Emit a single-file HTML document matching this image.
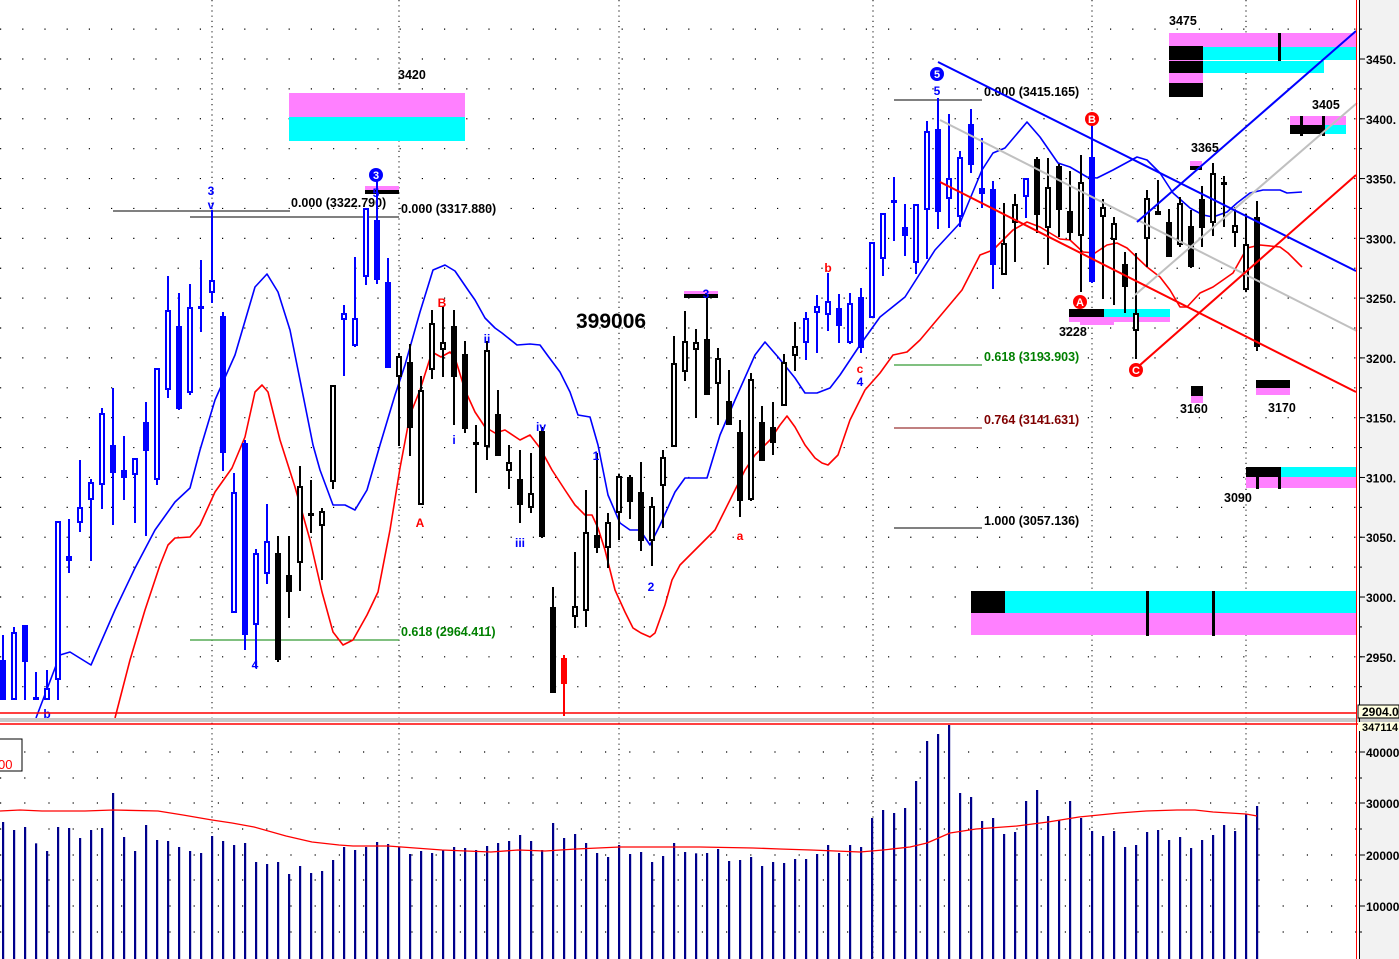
<!DOCTYPE html>
<html><head><meta charset="utf-8">
<style>
html,body{margin:0;padding:0;background:#fff;}
svg{display:block;}
text{font-family:"Liberation Sans",Arial,sans-serif;font-weight:bold;}
</style></head>
<body>
<svg id="c" width="1399" height="959" viewBox="0 0 1399 959" xmlns="http://www.w3.org/2000/svg">
<rect x="0" y="0" width="1399" height="959" fill="#fff"/>
<rect x="1360" y="0" width="39" height="959" fill="#f2f2f2"/>
<g id="grid"></g>
<rect x="289" y="93" width="176" height="24" fill="#ff80ff"/>
<rect x="289" y="117" width="176" height="24" fill="#00ffff"/>
<rect x="1169" y="33" width="187" height="14" fill="#ff80ff"/>
<rect x="1203" y="47" width="153" height="13" fill="#00ffff"/>
<rect x="1203" y="61" width="121" height="12" fill="#00ffff"/>
<rect x="1169" y="46" width="34" height="14" fill="#000"/>
<rect x="1169" y="60" width="34" height="1" fill="#ff80ff"/>
<rect x="1169" y="61" width="34" height="12" fill="#000"/>
<rect x="1169" y="73" width="34" height="10" fill="#ff80ff"/>
<rect x="1169" y="83" width="34" height="14" fill="#000"/>
<rect x="1278" y="33" width="3" height="28" fill="#000"/>
<rect x="1290" y="116" width="56" height="9" fill="#ff80ff"/>
<rect x="1325" y="125" width="21" height="9" fill="#00ffff"/>
<rect x="1290" y="125" width="35" height="9" fill="#000"/>
<rect x="1300" y="116" width="3" height="20" fill="#000"/>
<rect x="1322" y="116" width="3" height="20" fill="#000"/>
<rect x="1246" y="467" width="35" height="10" fill="#000"/>
<rect x="1281" y="467" width="75" height="10" fill="#00ffff"/>
<rect x="1246" y="477" width="110" height="11" fill="#ff80ff"/>
<rect x="1256" y="467" width="3" height="22" fill="#000"/>
<rect x="1278" y="467" width="3" height="22" fill="#000"/>
<rect x="971" y="591" width="34" height="22" fill="#000"/>
<rect x="1005" y="591" width="351" height="22" fill="#00ffff"/>
<rect x="971" y="613" width="385" height="22" fill="#ff80ff"/>
<rect x="1146" y="591" width="3" height="45" fill="#000"/>
<rect x="1212" y="591" width="3" height="45" fill="#000"/>
<rect x="1069" y="309" width="35" height="8" fill="#000"/>
<rect x="1104" y="309" width="66" height="8" fill="#00ffff"/>
<rect x="1069" y="317" width="101" height="5" fill="#ff80ff"/>
<rect x="1080" y="322" width="34" height="3" fill="#ff80ff"/>
<rect x="1191" y="386" width="12" height="10" fill="#000"/>
<rect x="1191" y="396" width="12" height="7" fill="#ff80ff"/>
<rect x="1256" y="380" width="34" height="8" fill="#000"/>
<rect x="1256" y="388" width="34" height="7" fill="#ff80ff"/>
<rect x="1190" y="161" width="12" height="5" fill="#ff80ff"/>
<rect x="1190" y="166" width="12" height="4" fill="#000"/>
<rect x="684" y="291" width="34" height="3" fill="#ff80ff"/>
<rect x="684" y="294" width="34" height="4" fill="#000"/>
<rect x="365" y="186" width="34" height="4" fill="#ff80ff"/>
<rect x="365" y="190" width="34" height="4" fill="#000"/>
<g stroke-width="1">
<line x1="113" y1="211" x2="290" y2="211" stroke="#000"/>
<line x1="190" y1="217" x2="399" y2="217" stroke="#000"/>
<line x1="190" y1="640" x2="399" y2="640" stroke="#008000"/>
<line x1="894" y1="100" x2="982" y2="100" stroke="#000"/>
<line x1="894" y1="365" x2="982" y2="365" stroke="#008000"/>
<line x1="894" y1="428" x2="982" y2="428" stroke="#800000"/>
<line x1="894" y1="528" x2="982" y2="528" stroke="#000"/>
</g>
<g font-size="12.5">
<text x="291" y="207" fill="#000">0.000 (3322.790)</text>
<text x="401" y="213" fill="#000">0.000 (3317.880)</text>
<text x="401" y="636" fill="#008000">0.618 (2964.411)</text>
<text x="984" y="96" fill="#000">0.000 (3415.165)</text>
<text x="984" y="361" fill="#008000">0.618 (3193.903)</text>
<text x="984" y="424" fill="#800000">0.764 (3141.631)</text>
<text x="984" y="525" fill="#000">1.000 (3057.136)</text>
<text x="398" y="79" fill="#000">3420</text>
<text x="1169" y="25" fill="#000">3475</text>
<text x="1312" y="109" fill="#000">3405</text>
<text x="1191" y="152" fill="#000">3365</text>
<text x="1059" y="336" fill="#000">3228</text>
<text x="1180" y="413" fill="#000">3160</text>
<text x="1268" y="412" fill="#000">3170</text>
<text x="1224" y="502" fill="#000">3090</text>
</g>
<text x="576" y="328" font-size="21" fill="#000">399006</text>
<g id="ma"></g>
<g id="cd"></g>
<g id="tl" stroke-width="2" fill="none">
<line x1="940" y1="120" x2="1357" y2="331" stroke="#c0c0c0"/>
<line x1="1135" y1="295" x2="1357" y2="103" stroke="#c0c0c0"/>
<line x1="938" y1="62" x2="1356" y2="271" stroke="#0000ff"/>
<line x1="1137" y1="222" x2="1356" y2="31" stroke="#0000ff"/>
<line x1="940" y1="182" x2="1356" y2="392" stroke="#ff0000"/>
<line x1="1140" y1="365" x2="1356" y2="175" stroke="#ff0000"/>
</g>
<g font-size="12" text-anchor="middle">
<text x="211" y="195" fill="#0000ff">3</text>
<text x="211" y="209" fill="#0000ff">v</text>
<text x="255" y="669" fill="#0000ff">4</text>
<text x="420" y="527" fill="#ff0000">A</text>
<text x="442" y="307" fill="#ff0000">B</text>
<text x="454" y="444" fill="#0000ff">i</text>
<text x="487" y="343" fill="#0000ff">ii</text>
<text x="520" y="547" fill="#0000ff">iii</text>
<text x="541" y="431" fill="#0000ff">iv</text>
<text x="596" y="460" fill="#0000ff">1</text>
<text x="651" y="591" fill="#0000ff">2</text>
<text x="706" y="298" fill="#0000ff">3</text>
<text x="740" y="540" fill="#ff0000">a</text>
<text x="828" y="272" fill="#ff0000">b</text>
<text x="860" y="373" fill="#ff0000">c</text>
<text x="860" y="386" fill="#0000ff">4</text>
<text x="937" y="95" fill="#0000ff">5</text>
<text x="376" y="197" fill="#0000ff">5</text>
<text x="47" y="718" fill="#0000ff">b</text>
</g>
<g font-size="11" text-anchor="middle">
<circle cx="376" cy="175" r="7" fill="#0000ff"/><text x="376" y="179" fill="#fff">3</text>
<circle cx="937" cy="74" r="7" fill="#0000ff"/><text x="937" y="78" fill="#fff">5</text>
<circle cx="1092" cy="119" r="7" fill="#ff0000"/><text x="1092" y="123" fill="#fff">B</text>
<circle cx="1080" cy="302" r="7" fill="#ff0000"/><text x="1080" y="306" fill="#fff">A</text>
<circle cx="1136" cy="370" r="7" fill="#ff0000"/><text x="1136" y="374" fill="#fff">C</text>
</g>
<line x1="0" y1="713" x2="1356" y2="713" stroke="#ff0000" stroke-width="1.5"/>
<rect x="0" y="718" width="1399" height="4" fill="#c8c8c8"/>
<line x1="0" y1="724" x2="1360" y2="724" stroke="#ff0000" stroke-width="1.5"/>
<g id="vol"></g>
<line x1="1356.5" y1="0" x2="1356.5" y2="959" stroke="#ff0000" stroke-width="1"/>
<line x1="1359.5" y1="0" x2="1359.5" y2="959" stroke="#000" stroke-width="1"/>
<g id="ax" font-size="12" fill="#000"></g>
<rect x="1358" y="705" width="41" height="13" fill="#ffffe0" stroke="#000" stroke-width="1"/>
<text x="1362" y="716" font-size="12" fill="#000">2904.0</text>
<rect x="1358" y="722" width="41" height="9" fill="#ffffe0"/>
<text x="1362" y="731" font-size="11" fill="#000">347114</text>
<rect x="-1" y="739" width="23" height="32" fill="#fff" stroke="#000" stroke-width="1"/>
<text x="-2" y="769" font-size="13" fill="#ff0000" style="font-weight:normal">00</text>
</svg>
<script>
var NS="http://www.w3.org/2000/svg";
function el(p,t,a){var e=document.createElementNS(NS,t);for(var k in a)e.setAttribute(k,a[k]);p.appendChild(e);return e;}
var g=document.getElementById('grid');
for(var p=2925;p<=3475;p+=25){var y=59+(3450-p)*1.1956;if(y<0||y>712)continue;
 el(g,'line',{x1:0,y1:y,x2:1356,y2:y,stroke:'#000','stroke-width':1.2,'stroke-dasharray':'1.2,21'});}
[752,778,803,829,855,880,906,932].forEach(function(y){el(g,'line',{x1:0,y1:y,x2:1356,y2:y,stroke:'#000','stroke-width':1.2,'stroke-dasharray':'1.2,23'});});
[212,399,619,873,1092,1246].forEach(function(x){el(g,'line',{x1:x,y1:0,x2:x,y2:959,stroke:'#000','stroke-width':1,'stroke-dasharray':'1.2,4'});});
var ax=document.getElementById('ax');
for(var p=2950;p<=3450;p+=50){var y=59+(3450-p)*1.1956;
 el(ax,'line',{x1:1359,y1:y,x2:1365,y2:y,stroke:'#000'});
 var t=el(ax,'text',{x:1366,y:y+5});t.textContent=p+'.';}
for(var p=2925;p<=3475;p+=25){var y=59+(3450-p)*1.1956;if(y<0||y>705)continue;el(ax,'line',{x1:1359,y1:y,x2:1362,y2:y,stroke:'#000'});}
[[752,'40000'],[803,'30000'],[855,'20000'],[906,'10000']].forEach(function(a){
 el(ax,'line',{x1:1359,y1:a[0],x2:1365,y2:a[0],stroke:'#000'});var t=el(ax,'text',{x:1366,y:a[0]+5});t.textContent=a[1];});
[778,829,880,932].forEach(function(y){el(ax,'line',{x1:1359,y1:y,x2:1362,y2:y,stroke:'#000'});});
var ma=document.getElementById('ma');
var blue=[[36,718],[60,655],[70,652],[91,665],[115,610],[135,568],[155,530],[175,502],[190,488],[200,450],[215,400],[235,355],[255,287],[267,274],[278,292],[290,330],[300,380],[313,445],[320,470],[333,505],[345,505],[355,510],[367,490],[380,445],[395,395],[405,365],[420,312],[433,270],[445,265],[455,271],[468,290],[475,300],[485,318],[495,328],[502,333],[517,345],[530,344],[540,345],[548,356],[560,372],[570,392],[578,415],[590,417],[598,445],[608,495],[620,523],[630,530],[640,530],[650,545],[660,525],[675,492],[685,478],[707,478],[720,435],[735,400],[755,355],[765,342],[778,357],[795,378],[805,393],[817,393],[830,388],[840,375],[860,345],[880,317],[905,297],[935,250],[960,223],[982,170],[993,153],[1005,148],[1027,122],[1040,137],[1058,163],[1070,167],[1087,177],[1097,178],[1113,170],[1137,157],[1147,160],[1160,173],[1173,193],[1190,208],[1203,215],[1213,217],[1227,212],[1237,203],[1250,193],[1263,190],[1280,190],[1287,193],[1302,192]];
var red=[[115,718],[130,660],[145,610],[160,565],[168,545],[175,538],[190,537],[200,525],[215,492],[232,468],[245,437],[255,392],[262,385],[268,392],[280,440],[295,487],[310,540],[322,592],[333,632],[343,645],[353,640],[367,615],[378,592],[390,530],[400,468],[410,415],[420,390],[432,352],[441,357],[450,352],[455,358],[465,390],[475,412],[485,427],[495,433],[505,430],[520,440],[530,435],[540,448],[552,470],[565,490],[575,505],[585,515],[592,515],[598,528],[605,550],[615,590],[625,612],[633,628],[641,633],[650,637],[655,633],[665,605],[672,580],[680,565],[695,550],[705,540],[715,530],[725,510],[735,490],[745,470],[755,455],[770,440],[780,425],[787,416],[795,427],[805,445],[815,458],[822,463],[828,465],[838,455],[850,420],[865,390],[880,373],[893,355],[907,352],[920,340],[962,290],[980,255],[993,250],[1013,230],[1027,222],[1040,227],[1060,239],[1070,240],[1083,252],[1095,253],[1107,245],[1117,243],[1127,248],[1147,267],[1160,277],[1170,290],[1180,307],[1187,307],[1200,293],[1213,287],[1233,273],[1247,248],[1260,245],[1280,247],[1288,253],[1302,267]];
function pl(pts,c,w,par){el(par,'polyline',{points:pts.map(function(p){return p.join(',')}).join(' '),fill:'none',stroke:c,'stroke-width':w,'stroke-linejoin':'round'});}
pl(blue,'#0000ff',1.6,ma);pl(red,'#ff0000',1.6,ma);
var B='#0000ff',K='#000',R='#ff0000';
var C=[[3,635,700,660,700,1,B],[14,627,700,632,700,0,B],[25,625,700,625,662,1,B],[36,672,700,697,700,1,B],[47,670,700,688,700,0,B],[58,521,700,521,680,0,B],[69,519,573,556,561,1,B],[80,460,532,507,523,0,B],[91,479,561,482,500,0,B],[102,408,509,413,485,0,B],[113,388,525,445,473,1,B],[124,436,500,470,478,1,B],[135,458,523,458,475,0,B],[146,402,536,422,451,1,B],[157,368,485,368,480,0,B],[168,276,398,310,390,0,B],[179,293,410,326,409,1,B],[190,284,395,307,393,0,B],[201,260,332,306,308,1,B],[212,210,303,280,293,0,B],[223,312,471,316,453,1,B],[234,473,613,492,613,0,B],[245,440,650,443,635,1,B],[256,549,668,553,625,0,B],[267,504,584,541,574,0,B],[278,536,662,553,660,1,K],[289,536,618,575,592,1,K],[300,466,591,486,563,0,K],[311,480,533,513,515,1,K],[322,508,580,511,526,0,K],[333,385,489,385,482,0,K],[344,305,376,313,320,0,B],[355,257,347,318,346,0,B],[366,208,285,208,277,0,B],[377,180,284,220,280,1,B],[388,258,368,282,368,1,B],[399,353,446,356,377,0,K],[410,344,456,362,428,1,K],[421,376,505,390,505,0,K],[432,310,379,323,370,0,K],[443,306,377,342,350,0,K],
[454,310,425,326,377,1,K],[465,341,433,354,429,1,K],[476,425,493,442,443,1,K],[487,341,460,350,447,0,K],[498,390,456,414,456,1,K],[509,445,489,462,471,0,K],[520,450,523,479,505,1,K],[531,453,513,493,508,0,K],[542,427,538,431,537,1,K],[553,587,693,607,693,1,K],[564,655,716,658,684,1,R],[575,552,628,606,617,0,K],[586,490,627,532,611,0,K],[597,453,553,535,548,1,K],[608,513,568,522,548,0,K],[619,474,540,476,513,0,K],[630,475,519,477,502,1,K],[641,462,551,492,541,1,K],[652,497,566,506,541,0,K],[663,450,528,457,486,0,K],[674,336,447,363,447,0,K],[685,311,381,341,372,0,K],[696,329,418,342,350,0,K],[707,295,395,339,395,1,K],[718,348,425,358,384,0,K],[729,370,425,401,425,1,K],[740,420,517,432,501,1,K],[751,373,501,379,500,0,K],[762,406,461,422,461,1,K],[773,402,455,427,443,1,K],[784,354,406,362,406,0,K],[795,322,371,346,356,0,K],[806,312,360,318,343,0,B],[817,295,353,306,313,0,B],[828,273,331,301,315,0,B],[839,294,343,308,326,1,B],[850,293,344,303,343,0,B],[861,288,353,297,348,1,B],[872,242,318,242,318,0,B],[883,213,276,213,259,0,B],[894,177,241,200,203,1,B],
[905,204,256,227,236,1,B],[916,204,274,204,263,0,B],[927,121,259,131,210,0,B],[938,98,229,129,212,1,B],[949,114,228,178,199,0,B],[960,151,227,157,217,0,B],[971,109,173,124,165,1,B],[982,138,208,188,194,1,B],[993,181,289,189,265,1,B],[1004,203,275,243,275,0,K],[1015,194,262,204,223,0,K],[1026,178,218,178,197,0,B],[1037,157,233,159,215,1,K],[1048,158,265,187,228,0,K],[1059,164,237,166,210,1,K],[1070,171,240,211,233,1,K],[1081,155,292,182,236,0,K],[1092,120,283,157,282,1,B],[1103,199,299,207,217,0,K],[1114,217,305,223,240,0,K],[1125,252,313,264,287,1,K],[1136,253,359,313,331,0,K],[1147,190,267,198,239,0,K],[1158,180,215,211,215,1,K],[1169,209,257,222,257,1,K],[1180,197,247,203,245,0,K],[1191,210,268,226,267,1,K],[1202,186,247,199,228,1,K],[1213,163,236,173,223,0,K],[1224,176,227,182,185,1,K],[1235,207,247,225,233,0,K],[1246,214,292,244,290,0,K],[1257,201,351,217,347,1,K]];
var cd=document.getElementById('cd');
C.forEach(function(c){
 var x=c[0];
 el(cd,'rect',{x:x-1,y:c[1],width:2,height:Math.max(1,c[2]-c[1]),fill:c[6]});
 var h=Math.max(3,c[4]-c[3]);
 if(c[5]) el(cd,'rect',{x:x-3,y:c[3],width:6,height:h,fill:c[6]});
 else el(cd,'rect',{x:x-2,y:c[3]+1,width:4,height:Math.max(1,h-2),fill:'#fff',stroke:c[6],'stroke-width':2});
});
var V=[366,390,381,430,453,381,384,414,390,384,279,411,453,375,420,423,441,453,459,408,423,435,429,486,492,486,522,498,519,513,480,441,450,441,426,432,441,462,453,459,450,441,444,450,438,429,423,405,423,450,369,414,402,429,459,471,435,462,456,486,468,429,456,460,
459,447,483,480,471,498,486,489,477,477,462,435,459,435,441,354,330,339,324,243,123,102,72,279,291,363,354,402,396,303,270,348,360,303,354,393,408,393,441,435,396,390,420,411,444,420,405,375,393,342,318];
var vg=document.getElementById('vol');
V.forEach(function(v,i){var x=3+11*i;var y=Math.max(725,700+v/3);el(vg,'rect',{x:x-1,y:y,width:2.2,height:959-y,fill:'#00008b'});});
var vma=[[0,811],[20,810],[42,811],[85,811],[113,810],[158,811],[183,815],[212,820],[232,823],[254,827],[286,836],[312,842],[339,845],[353,846],[388,846],[442,850],[491,852],[518,850],[545,851],[576,849],[620,847],[700,847],[753,848],[780,849],[811,850],[860,852],[883,850],[910,847],[927,843],[950,833],[976,829],[1017,826],[1048,822],[1079,817],[1119,813],[1146,811],[1177,810],[1195,810],[1213,812],[1246,814],[1257,816]];
pl(vma,'#ff0000',1.3,vg);
</script>
</body></html>
